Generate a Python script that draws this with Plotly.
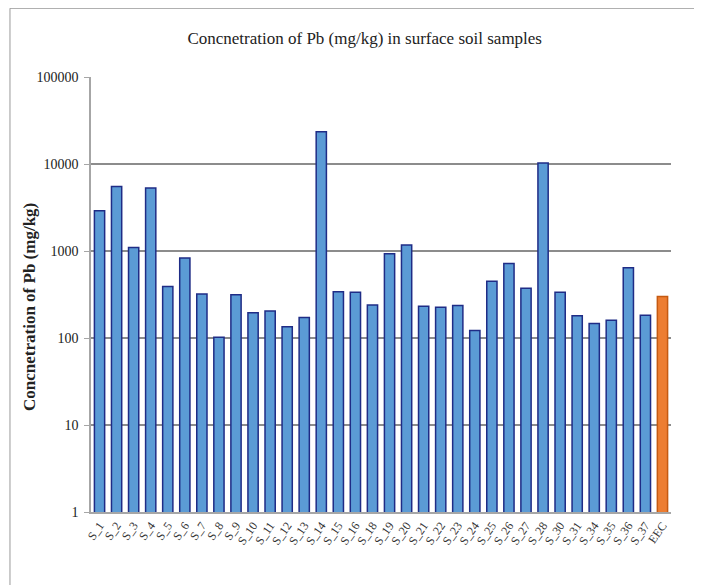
import plotly.graph_objects as go

categories = ["S_1", "S_2", "S_3", "S_4", "S_5", "S_6", "S_7", "S_8", "S_9", "S_10",
              "S_11", "S_12", "S_13", "S_14", "S_15", "S_16", "S_18", "S_19", "S_20",
              "S_21", "S_22", "S_23", "S_24", "S_25", "S_26", "S_27", "S_28", "S_30",
              "S_31", "S_34", "S_35", "S_36", "S_37", "EEC"]
pb_values = [2900, 5500, 1100, 5300, 390, 830, 320, 102, 315, 195,
             205, 135, 172, 23500, 340, 335, 240, 930, 1170,
             232, 225, 237, 122, 450, 720, 372, 10300, 335,
             180, 147, 160, 640, 182, 300]
tick_vals = [1, 10, 100, 1000, 10000, 100000]
tick_text = ["1", "10", "100", "1000", "10000", "100000"]

fill_colors = ["#ED7D31" if c == "EEC" else "#5B9BD5" for c in categories]
line_colors = ["#C55A11" if c == "EEC" else "#1F2C86" for c in categories]

fig = go.Figure()
fig.add_trace(go.Bar(
    x=categories, y=pb_values,
    marker=dict(color=fill_colors, line=dict(color=line_colors, width=1.5)),
    width=0.6,
))

serif = "Liberation Serif"
fig.update_layout(
    width=694, height=577,
    margin=dict(l=83, r=31, t=69, b=73),
    paper_bgcolor="white", plot_bgcolor="white",
    showlegend=False,
    title=dict(text="Concnetration of Pb (mg/kg) in surface soil samples",
               x=0.514, xanchor="center", y=0.948, yanchor="middle",
               font=dict(family=serif, size=17, color="#222")),
)
fig.update_yaxes(
    type="log", range=[0, 5],
    tickvals=tick_vals, ticktext=tick_text,
    tickfont=dict(family=serif, size=14, color="#222"),
    showgrid=True, gridcolor="#8C8C8C", gridwidth=1.5,
    showline=True, linecolor="#A6A6A6", linewidth=1.5,
    ticks="outside", ticklen=5, tickcolor="#A6A6A6",
    ticklabelstandoff=3,
    zeroline=False, automargin=False,
)
fig.update_xaxes(
    tickangle=-55,
    tickfont=dict(family=serif, size=12, color="#333"),
    showline=True, linecolor="#A6A6A6", linewidth=1.5,
    showgrid=False, ticks="", automargin=False,
)

# y-axis title
fig.add_annotation(text="<b>Concnetration of Pb (mg/kg)</b>", textangle=-90,
                   xref="paper", yref="paper", x=-0.105, y=0.4716,
                   xanchor="center", yanchor="middle", showarrow=False,
                   font=dict(family=serif, size=17, color="#222"))

# outer frame of the chart area
fig.add_shape(type="line", xref="paper", yref="paper",
              x0=-0.1397, x1=1.06, y0=1.158, y1=1.158,
              line=dict(color="#999999", width=1))
fig.add_shape(type="line", xref="paper", yref="paper",
              x0=-0.1397, x1=-0.1397, y0=1.158, y1=-0.2,
              line=dict(color="#999999", width=1))

fig.write_html("out.html")
